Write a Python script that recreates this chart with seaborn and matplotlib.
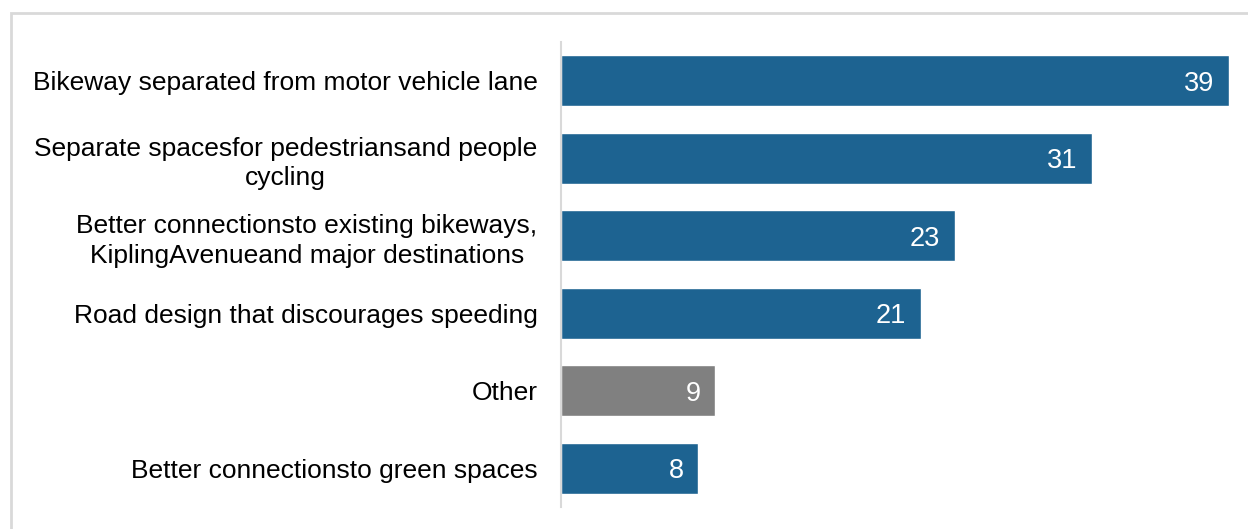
import pandas as pd
import matplotlib
matplotlib.use('Agg')
import matplotlib.pyplot as plt
import seaborn as sns
from matplotlib.patches import Rectangle

categories = [
    'Bikeway separated from motor vehicle lane',
    'Separate spacesfor pedestriansand people\ncycling',
    'Better connectionsto existing bikeways,\nKiplingAvenueand major destinations',
    'Road design that discourages speeding',
    'Other',
    'Better connectionsto green spaces',
]
values = [39, 31, 23, 21, 9, 8]
bar_colors = ['#1d6391', '#1d6391', '#1d6391', '#1d6391', '#808080', '#1d6391']

df = pd.DataFrame({'category': categories, 'value': values})

sns.set_style('white')
plt.rcParams['font.family'] = ['Liberation Sans', 'DejaVu Sans']

fig = plt.figure(figsize=(12.48, 5.29), dpi=100)
ax = fig.add_axes([561 / 1248, 1 - 507 / 529, (1236 - 561) / 1248, (507 - 42) / 529])

sns.barplot(data=df, x='value', y='category', hue='category', palette=bar_colors,
            legend=False, width=0.66, saturation=1, ax=ax)

ax.set_xlim(0, 39.4)
ax.set_ylim(5.5, -0.5)
ax.set_xlabel('')
ax.set_ylabel('')
ax.set_xticks([])
for side in ['top', 'right', 'bottom']:
    ax.spines[side].set_visible(False)
ax.spines['left'].set_color('#d9d9d9')
ax.spines['left'].set_linewidth(1.5)
ax.tick_params(axis='y', length=0, pad=17, labelsize=19)
for lbl in ax.get_yticklabels():
    lbl.set_multialignment('center')
    lbl.set_linespacing(1.3)
    lbl.set_color('black')

for i, v in enumerate(values):
    ax.text(v - 0.85, i, str(v), color='white', fontsize=19.5, ha='right', va='center_baseline')

# outer frame
fig.patches.append(Rectangle((11 / 1248, -0.05), 1.1, 1 - 13 / 529 + 0.05,
                             transform=fig.transFigure, fill=False,
                             edgecolor='#d9d9d9', linewidth=2))

fig.savefig('out.png', dpi=100)
